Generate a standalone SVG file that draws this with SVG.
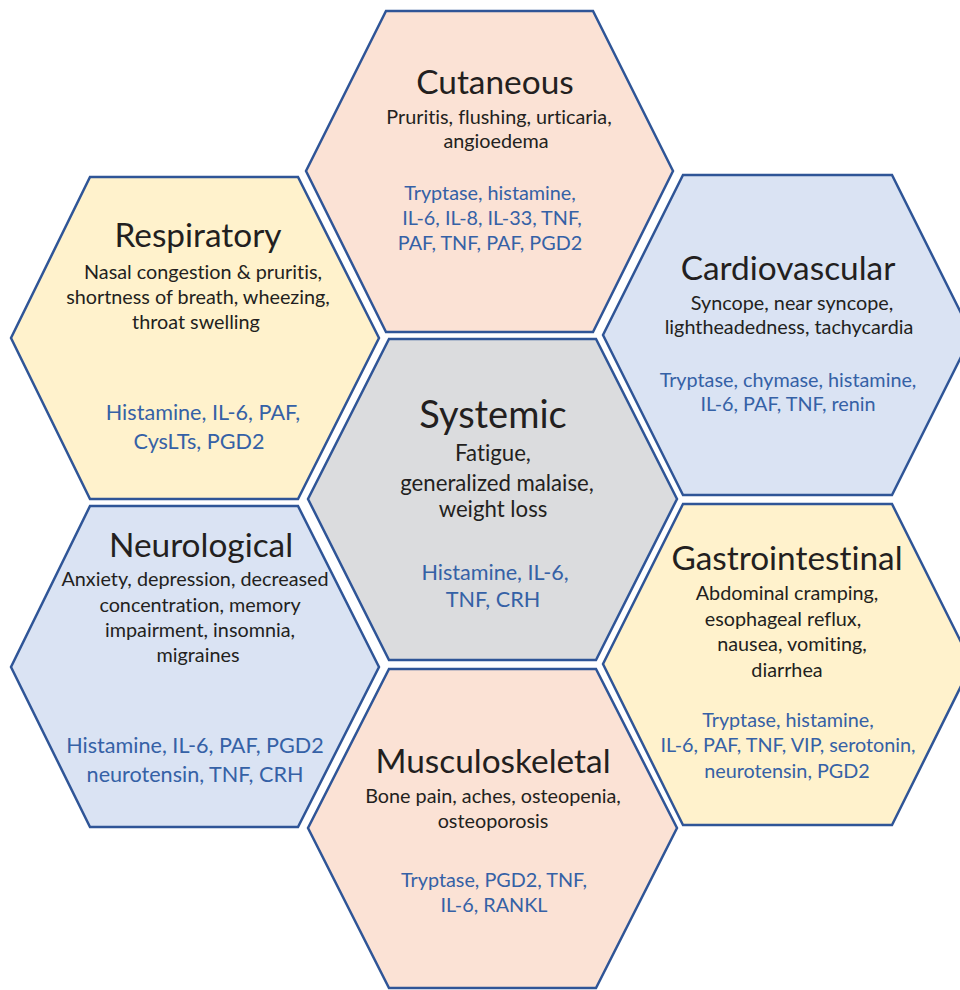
<svg xmlns="http://www.w3.org/2000/svg" width="960" height="990" viewBox="0 0 960 990">
<style>
.hex{stroke:#2F5597;stroke-width:2.5;stroke-linejoin:miter}
.pink{fill:#FBE2D5}.yellow{fill:#FFF2CC}.blue{fill:#DAE3F3}.gray{fill:#DBDCDE}
text{font-family:Lato,"Open Sans","Liberation Sans",sans-serif;text-anchor:middle;font-variant-ligatures:none}
.t{font-size:33.4px;fill:#231F20}
.ts{font-size:38px;fill:#231F20}
.b{font-size:19.8px;fill:#231F20}
.bs{font-size:22.2px;fill:#231F20}
.m{font-size:19.8px;fill:#3561A6}
.ms{font-size:21.6px;fill:#3561A6}
</style>
<rect width="960" height="990" fill="#FFFFFF"/>
<g id="cutaneous">
<polygon class="hex pink" points="386,11 593,11 673,171 593,332 386,332 306,171"/>
<text class="t" x="495" y="94">Cutaneous</text>
<text class="b" x="499" y="124">Pruritis, flushing, urticaria,</text>
<text class="b" x="496" y="148">angioedema</text>
<text class="m" x="490" y="200">Tryptase, histamine,</text>
<text class="m" x="492" y="225">IL-6, IL-8, IL-33, TNF,</text>
<text class="m" x="490" y="250">PAF, TNF, PAF, PGD2</text>
</g>
<g id="respiratory">
<polygon class="hex yellow" points="90,177 298,177 379,338 298,499 90,499 11,338"/>
<text class="t" x="198" y="247">Respiratory</text>
<text class="b" x="203" y="279">Nasal congestion &amp; pruritis,</text>
<text class="b" x="198" y="304">shortness of breath, wheezing,</text>
<text class="b" x="196" y="329">throat swelling</text>
<text class="ms" x="203" y="420">Histamine, IL-6, PAF,</text>
<text class="ms" x="199" y="449">CysLTs, PGD2</text>
</g>
<g id="cardiovascular">
<polygon class="hex blue" points="683,175 892,175 972,335 892,495 683,495 603,335"/>
<text class="t" x="788" y="280">Cardiovascular</text>
<text class="b" x="792" y="310">Syncope, near syncope,</text>
<text class="b" x="789" y="334">lightheadedness, tachycardia</text>
<text class="m" x="788" y="387">Tryptase, chymase, histamine,</text>
<text class="m" x="788" y="411">IL-6, PAF, TNF, renin</text>
</g>
<g id="systemic">
<polygon class="hex gray" points="389,339 596,339 677,499 596,660 389,660 308,499"/>
<text class="ts" x="493" y="428">Systemic</text>
<text class="bs" x="493" y="461">Fatigue,</text>
<text class="bs" x="497" y="491">generalized malaise,</text>
<text class="bs" x="493" y="517">weight loss</text>
<text class="ms" x="495" y="580">Histamine, IL-6,</text>
<text class="ms" x="493" y="607">TNF, CRH</text>
</g>
<g id="neurological">
<polygon class="hex blue" points="90,506 298,506 379,667 298,827 90,827 11,667"/>
<text class="t" x="201" y="557">Neurological</text>
<text class="b" x="195" y="586">Anxiety, depression, decreased</text>
<text class="b" x="200" y="612">concentration, memory</text>
<text class="b" x="200" y="637">impairment, insomnia,</text>
<text class="b" x="198" y="662">migraines</text>
<text class="ms" x="195" y="753">Histamine, IL-6, PAF, PGD2</text>
<text class="ms" x="195" y="782">neurotensin, TNF, CRH</text>
</g>
<g id="gastrointestinal">
<polygon class="hex yellow" points="683,504 892,504 972,664 892,825 683,825 603,664"/>
<text class="t" x="787" y="570">Gastrointestinal</text>
<text class="b" x="787" y="600">Abdominal cramping,</text>
<text class="b" x="783" y="626">esophageal reflux,</text>
<text class="b" x="792" y="651">nausea, vomiting,</text>
<text class="b" x="787" y="677">diarrhea</text>
<text class="m" x="788" y="727">Tryptase, histamine,</text>
<text class="m" x="788" y="752">IL-6, PAF, TNF, VIP, serotonin,</text>
<text class="m" x="787" y="778">neurotensin, PGD2</text>
</g>
<g id="musculoskeletal">
<polygon class="hex pink" points="389,669 596,669 677,828 596,988 389,988 308,828"/>
<text class="t" x="493" y="773">Musculoskeletal</text>
<text class="b" x="493" y="803">Bone pain, aches, osteopenia,</text>
<text class="b" x="493" y="828">osteoporosis</text>
<text class="m" x="494" y="887">Tryptase, PGD2, TNF,</text>
<text class="m" x="494" y="912">IL-6, RANKL</text>
</g>
<g id="connectors"></g>
</svg>
